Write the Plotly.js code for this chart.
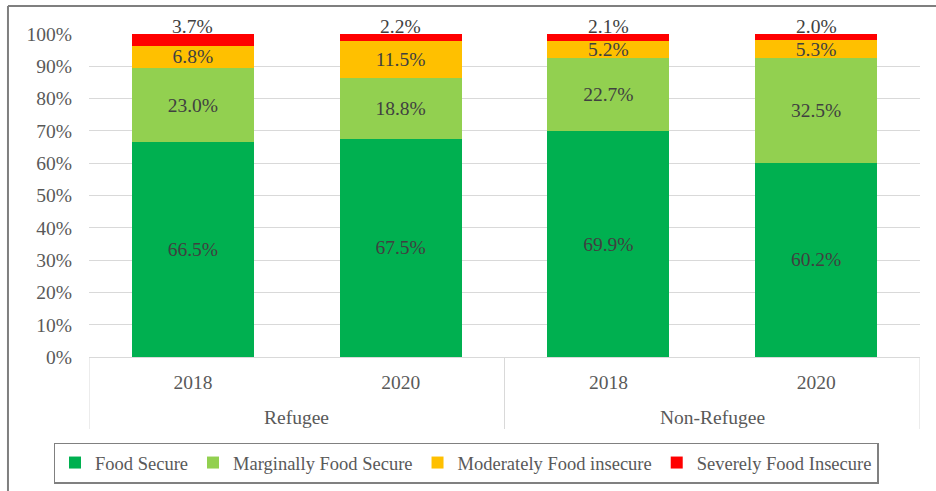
<!DOCTYPE html>
<html>
<head>
<meta charset="utf-8">
<script src="https://cdn.plot.ly/plotly-3.0.1.min.js"></script>
<style>
	html, body {margin: 0; padding: 0; background: #fff;}
	#chart {width: 936px; height: 491px;}
</style>
</head>
<body>
<div id="chart"></div>
<script>
const groups = ["Refugee", "Refugee", "Non-Refugee", "Non-Refugee"];
const years = ["2018", "2020", "2018", "2020"];

const foodSecure = [66.5, 67.5, 69.9, 60.2];
const marginallySecure = [23.0, 18.8, 22.7, 32.5];
const moderatelyInsecure = [6.8, 11.5, 5.2, 5.3];
const severelyInsecure = [3.7, 2.2, 2.1, 2.0];

const seriesNames = ["Food Secure", "Marginally Food Secure", "Moderately Food insecure", "Severely Food Insecure"];
const seriesColors = ["#00B050", "#92D050", "#FFC000", "#FF0000"];

const fontFamily = "Liberation Serif, Times New Roman, serif";
const labelFont = {family: fontFamily, size: 19.5, color: "#404040"};
const tickFont = {family: fontFamily, size: 19.5, color: "#595959"};
const legendFont = {family: fontFamily, size: 18.5, color: "#595959"};

// one category per bar, the axis only shows the year
const categories = groups.map((g, i) => g + " " + years[i]);
const pct = v => v.toFixed(1) + "%";

const makeTrace = (values, i, withText) => ({
	type: "bar",
	name: seriesNames[i],
	x: categories,
	y: values,
	marker: {color: seriesColors[i], line: {width: 0}},
	text: withText ? values.map(pct) : null,
	textposition: "inside",
	insidetextanchor: "middle",
	constraintext: "none",
	textfont: labelFont,
	hoverinfo: "none"
});

const data = [
	makeTrace(foodSecure, 0, true),
	makeTrace(marginallySecure, 1, true),
	makeTrace(moderatelyInsecure, 2, true),
	makeTrace(severelyInsecure, 3, false)
];

// severely insecure labels sit just above the top of each stack
const topLabels = categories.map((c, i) => ({
	xref: "x", yref: "y",
	x: c,
	y: foodSecure[i] + marginallySecure[i] + moderatelyInsecure[i] + severelyInsecure[i],
	text: pct(severelyInsecure[i]),
	showarrow: false,
	yanchor: "middle",
	yshift: 8,
	font: labelFont
}));

// group names under the years
const groupNames = [...new Set(groups)];
const groupLabels = groupNames.map(g => {
	const idx = groups.map((v, i) => v == g ? i : -1).filter(i => i >= 0);
	return {
		xref: "x", yref: "paper",
		x: (idx[0] + idx[idx.length - 1]) / 2,
		y: -0.186,
		text: g,
		showarrow: false,
		yanchor: "middle",
		font: tickFont
	};
});

// vertical dividers between groups and at both ends
const dividerPos = [-0.5];
groups.forEach((g, i) => {
	if(i < groups.length - 1 && groups[i + 1] != g){dividerPos.push(i + 0.5);}
});
dividerPos.push(groups.length - 0.5);
const dividers = dividerPos.map(p => ({
	type: "line", xref: "x", yref: "paper",
	x0: p, x1: p, y0: 0, y1: -0.223,
	line: {color: "#D9D9D9", width: 1}
}));

const layout = {
	width: 936,
	height: 491,
	margin: {l: 89, r: 16, t: 34, b: 134},
	paper_bgcolor: "#fff",
	plot_bgcolor: "#fff",
	barmode: "stack",
	bargap: 0.413,
	font: tickFont,
	xaxis: {
		type: "category",
		range: [-0.5, 3.5],
		tickvals: categories,
		ticktext: years,
		showline: true,
		linecolor: "#D9D9D9",
		linewidth: 1,
		ticks: "",
		ticklabelstandoff: 8,
		automargin: false,
		tickfont: tickFont
	},
	yaxis: {
		range: [0, 100],
		dtick: 10,
		ticksuffix: "%",
		showgrid: true,
		gridcolor: "#D9D9D9",
		gridwidth: 1,
		zeroline: false,
		showline: false,
		ticklabelstandoff: 16,
		automargin: false,
		tickfont: tickFont
	},
	showlegend: true,
	legend: {
		orientation: "h",
		x: 0.4537,
		xanchor: "center",
		yref: "container",
		y: 0.057,
		yanchor: "middle",
		bordercolor: "#808080",
		borderwidth: 1.5,
		traceorder: "normal",
		font: legendFont
	},
	annotations: topLabels.concat(groupLabels),
	shapes: dividers.concat([
		{type: "line", xref: "paper", yref: "paper", x0: -0.0975, x1: 1.1, y0: 1.0867, y1: 1.0867, line: {color: "#7F7F7F", width: 2}},
		{type: "line", xref: "paper", yref: "paper", x0: -0.0975, x1: -0.0975, y0: 1.0867, y1: -0.42, line: {color: "#7F7F7F", width: 2}}
	])
};

Plotly.newPlot("chart", data, layout, {staticPlot: true});
</script>
</body>
</html>
